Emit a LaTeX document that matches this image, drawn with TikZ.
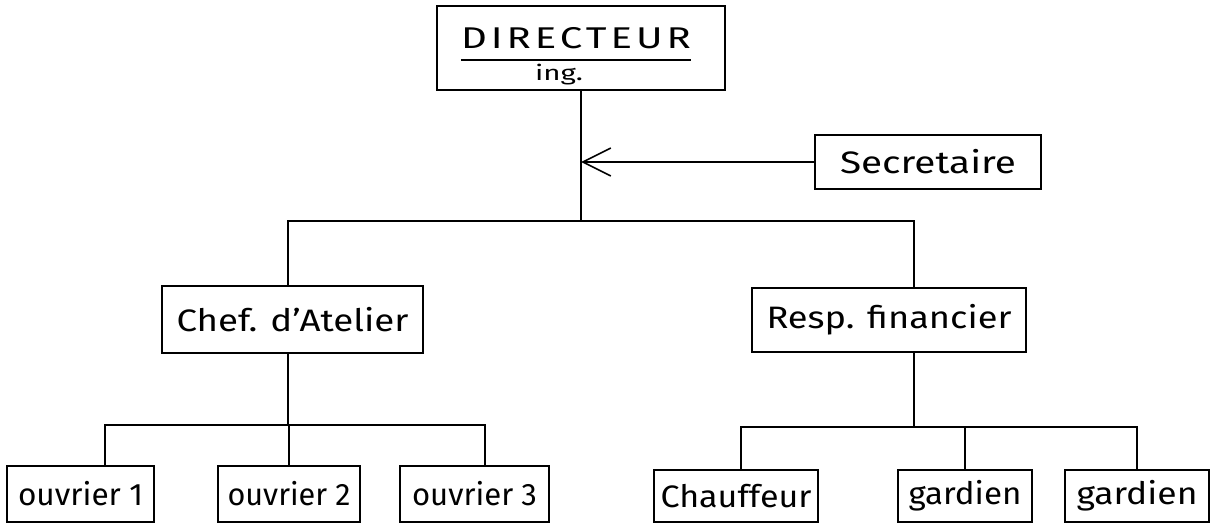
\documentclass[tikz,border=0pt]{standalone}
\usepackage{fontspec}
\usepackage{graphicx}
\setmainfont{Fira Sans}
\usetikzlibrary{arrows.meta}

% set a label at its natural height, stretched horizontally to a given width (pt)
\newsavebox\lblbox
\newcommand\fitw[2]{\sbox\lblbox{#2}\pgfmathsetmacro\lblsx{#1/\the\wd\lblbox}\scalebox{\lblsx}[1]{\usebox\lblbox}}

\tikzset{
  box/.style={draw, line width=1.6pt, inner sep=0pt, font=\fontsize{31}{34}\selectfont},
  lbl/.style={inner sep=0pt},
  link/.style={line width=1.6pt},
  headarrow/.style={-{Straight Barb[length=28pt, width=28pt, line width=1.6pt]}}
}

\begin{document}
\begin{tikzpicture}[x=1pt,y=-1pt]
\useasboundingbox (0,0) rectangle (1211,524);
\fill[white] (0,0) rectangle (1211,524);

% top of the chart
\node[box, minimum width=288pt, minimum height=84pt] (dir) at (581,48) {};
\node[lbl, anchor=base, font=\fontsize{30}{34}\selectfont\addfontfeature{LetterSpace=10}] (dirt) at (576,49) {\fitw{230}{DIRECTEUR}};
\node[lbl, anchor=base, font=\fontsize{21}{24}\selectfont] (ing) at (559,81) {\fitw{48}{ing.}};
\draw[line width=1.5pt] ([yshift=-11pt]dirt.base west) -- ([yshift=-11pt]dirt.base east);

\node[box, minimum width=226pt, minimum height=54pt] (sec) at (928,162) {\fitw{176}{Secretaire}};

% second level
\node[box, minimum width=261pt, minimum height=67pt] (chef) at (292.5,319.5) {\fitw{232}{Chef. d'Atelier}};
\node[box, minimum width=274pt, minimum height=64pt] (resp) at (889,320) {\fitw{245}{Resp. financier}};

% third level
\node[box, minimum width=147pt, minimum height=56pt] (o1) at (80.5,494) {\fitw{125}{ouvrier 1}};
\node[box, minimum width=142pt, minimum height=56pt] (o2) at (289,494) {\fitw{123}{ouvrier 2}};
\node[box, minimum width=149pt, minimum height=56pt] (o3) at (474.5,494) {\fitw{125}{ouvrier 3}};
\node[box, minimum width=164pt, minimum height=52pt] (chauf) at (736,496) {\fitw{151}{Chauffeur}};
\node[box, minimum width=134pt, minimum height=52pt] (g1) at (965,496) {\fitw{113}{gardien}};
\node[box, minimum width=144pt, minimum height=52pt] (g2) at (1137,496) {\fitw{121}{gardien}};

% junction points of the connectors
\coordinate (j1) at (581,162);
\coordinate (t1) at (581,221);
\coordinate (t2) at (288,425);
\coordinate (t3) at (914,427);

% connectors
\draw[link] (dir.south) -- (t1);
\draw[link, headarrow] (sec.west) -- (j1);
\draw[link] ([xshift=-4.5pt]chef.north) |- (t1) -| ([xshift=25pt]resp.north);

\draw[link] ([xshift=-4.5pt]chef.south) -- (t2);
\draw[link] ([xshift=24.5pt]o1.north) |- (t2) -| ([xshift=10.5pt]o3.north);
\draw[link] (o2.north) -- (o2.north |- t2);

\draw[link] ([xshift=25pt]resp.south) -- (t3);
\draw[link] ([xshift=5pt]chauf.north) |- (t3) -| (g2.north);
\draw[link] (g1.north) -- (g1.north |- t3);
\end{tikzpicture}
\end{document}
